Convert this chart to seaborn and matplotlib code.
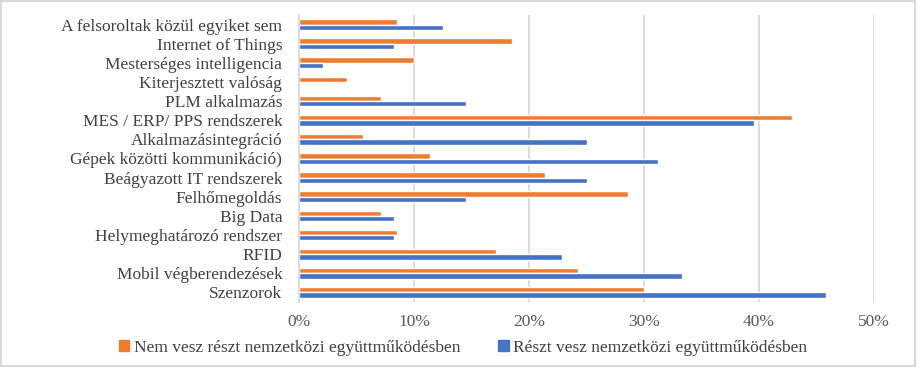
import matplotlib
matplotlib.use("Agg")
import matplotlib.pyplot as plt
from matplotlib.patches import Rectangle
from matplotlib.ticker import PercentFormatter
import pandas as pd
import seaborn as sns

# categories, top to bottom
categories = [
    "A felsoroltak közül egyiket sem",
    "Internet of Things",
    "Mesterséges intelligencia",
    "Kiterjesztett valóság",
    "PLM alkalmazás",
    "MES / ERP/ PPS rendszerek",
    "Alkalmazásintegráció",
    "Gépek közötti kommunikáció)",
    "Beágyazott IT rendszerek",
    "Felhőmegoldás",
    "Big Data",
    "Helymeghatározó rendszer",
    "RFID",
    "Mobil végberendezések",
    "Szenzorok",
]
nem_vesz = [0.085, 0.185, 0.100, 0.042, 0.071, 0.429, 0.056, 0.114,
            0.214, 0.286, 0.071, 0.085, 0.171, 0.243, 0.300]
reszt_vesz = [0.125, 0.083, 0.021, 0.0, 0.145, 0.396, 0.250, 0.312,
              0.250, 0.145, 0.083, 0.083, 0.229, 0.333, 0.458]
series_names = ["Nem vesz részt nemzetközi együttműködésben",
                "Részt vesz nemzetközi együttműködésben"]
colors = ["#ED7D31", "#4472C4"]

df = pd.DataFrame({
    "cat": categories * 2,
    "val": nem_vesz + reszt_vesz,
    "series": [series_names[0]] * len(categories) + [series_names[1]] * len(categories),
})

sns.set_style("white")
plt.rcParams["font.family"] = ["Liberation Serif", "DejaVu Serif"]

fig = plt.figure(figsize=(9.17, 3.67), dpi=100)
ax = fig.add_axes([299 / 917, 1 - 302 / 367, 575 / 917, 287 / 367])

sns.barplot(data=df, x="val", y="cat", hue="series", order=categories,
            hue_order=series_names, palette=colors, orient="h",
            width=0.56, saturation=1, ax=ax, legend=True)

ax.set_xlim(0, 0.5)
ax.set_xticks([0, 0.1, 0.2, 0.3, 0.4, 0.5])
ax.xaxis.set_major_formatter(PercentFormatter(1.0, decimals=0))
ax.grid(axis="x", color="#D9D9D9", linewidth=1.3)
ax.set_axisbelow(True)
for s in ["top", "right", "bottom"]:
    ax.spines[s].set_visible(False)
ax.spines["left"].set_color("#D9D9D9")
ax.spines["left"].set_linewidth(1.3)
ax.set_xlabel("")
ax.set_ylabel("")
ax.tick_params(axis="y", length=0, colors="#404040", labelsize=12.5, pad=12)
ax.tick_params(axis="x", length=0, colors="#595959", labelsize=12.5, pad=9)

ax.get_legend().remove()
handles = [Rectangle((0, 0), 1, 1, color=c) for c in colors]
fig.legend(handles, series_names, loc="center", bbox_to_anchor=(463 / 917, 1 - 348 / 367),
           ncol=2, frameon=False, fontsize=12.5, handlelength=0.6, handleheight=0.6,
           handletextpad=0.25, columnspacing=2.2, labelcolor="#404040")

fig.add_artist(Rectangle((0.001, 0.002), 0.997, 0.995, transform=fig.transFigure,
                         fill=False, edgecolor="#D9D9D9", linewidth=1.5))

fig.savefig("out.png", dpi=100)
